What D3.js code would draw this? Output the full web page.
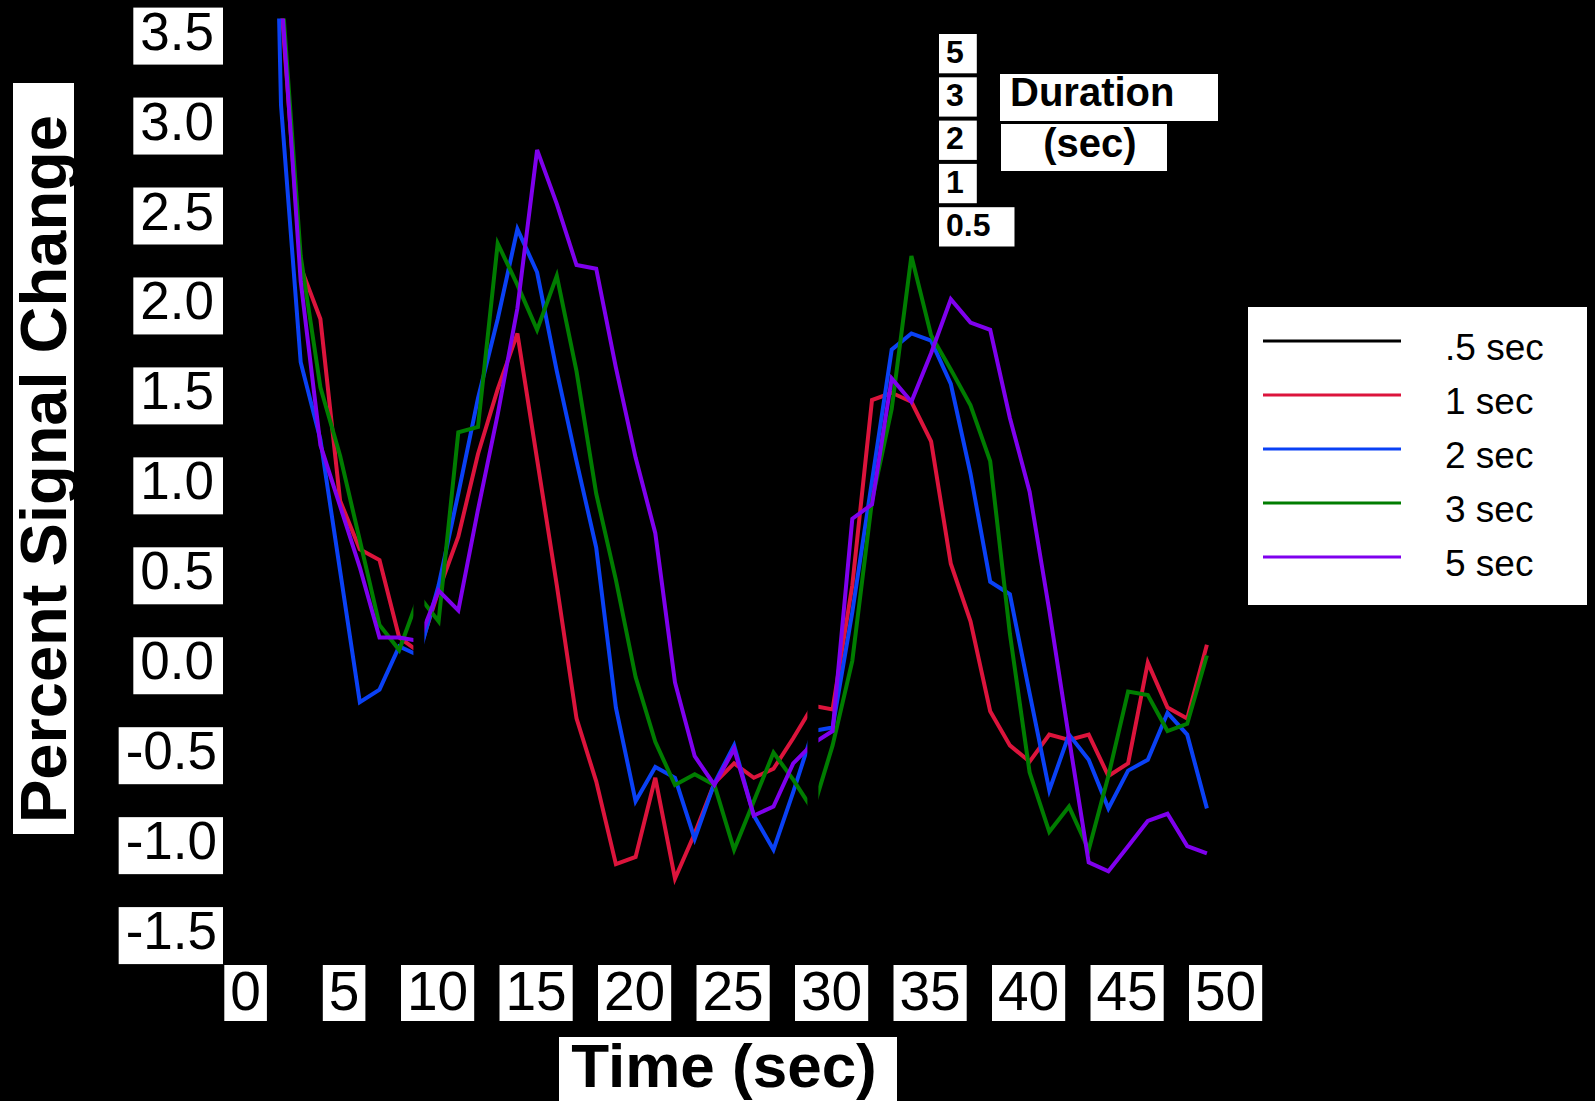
<!DOCTYPE html>
<html>
<head>
<meta charset="utf-8">
<script src="https://cdn.jsdelivr.net/npm/d3@7"></script>
<style>
  html, body { margin: 0; padding: 0; background: #000; }
  svg { display: block; }
  text { font-family: "Liberation Sans", Arial, Helvetica, sans-serif; }
</style>
</head>
<body>
<svg id="chart" width="1595" height="1101"></svg>
<script>
// ---- data: percent signal change sampled every second ----
const times = d3.range(1, 50); // 1 .. 49 s

// null = no sample; values above 3.6 run off the top of the plot
const sec1 = [null, 3.70, 2.22, 1.93, 0.92, 0.65, 0.59, 0.16, 0.08, 0.42, 0.72, 1.18, 1.54, 1.85, 1.15, 0.45,
  -0.29, -0.64, -1.10, -1.06, -0.62, -1.18, -0.93, -0.65, -0.54, -0.62, -0.57, -0.40, -0.22, -0.24, 0.45,
  1.48, 1.52, 1.47, 1.25, 0.57, 0.25, -0.25, -0.44, -0.53, -0.38, -0.41, -0.38, -0.61, -0.54, 0.02, -0.23, -0.29, 0.12];

const sec2 = [8.0, 3.12, 1.69, 1.26, 0.53, -0.20, -0.13, 0.11, 0.06, 0.45, 0.96, 1.49, 1.93, 2.43, 2.19, 1.64,
  1.14, 0.66, -0.23, -0.75, -0.56, -0.62, -0.96, -0.65, -0.44, -0.83, -1.02, -0.70, -0.36, -0.34, 0.30,
  1.03, 1.76, 1.85, 1.81, 1.57, 1.07, 0.47, 0.40, -0.15, -0.69, -0.38, -0.52, -0.79, -0.58, -0.52, -0.26, -0.38, -0.79];

const sec3 = [null, 3.82, 2.28, 1.55, 1.17, 0.70, 0.23, 0.09, 0.39, 0.25, 1.30, 1.33, 2.35, 2.12, 1.87, 2.17,
  1.64, 0.96, 0.48, -0.06, -0.42, -0.66, -0.60, -0.66, -1.02, -0.75, -0.48, -0.63, -0.80, -0.44, 0.03,
  0.92, 1.43, 2.28, 1.84, 1.65, 1.45, 1.14, 0.18, -0.59, -0.92, -0.78, -1.02, -0.61, -0.14, -0.16, -0.36, -0.32, 0.06];

const sec5 = [null, 3.76, 2.14, 1.23, 0.89, 0.55, 0.16, 0.16, 0.14, 0.42, 0.31, 0.87, 1.40, 1.99, 2.87, 2.57,
  2.23, 2.21, 1.66, 1.16, 0.74, -0.09, -0.50, -0.66, -0.46, -0.83, -0.78, -0.54, -0.43, -0.36, 0.82,
  0.90, 1.60, 1.47, 1.74, 2.04, 1.91, 1.87, 1.38, 0.97, 0.31, -0.40, -1.09, -1.14, -1.00, -0.86, -0.82, -1.00, -1.04];

// stimulus onsets (s), shown as thin black separators across the traces
const onsets = [9, 29];

// legend entries and their colours
const legendLabels = [".5 sec", "1 sec", "2 sec", "3 sec", "5 sec"];
const legendColors = ["#000000", "#dc143c", "#0a41f5", "#007d00", "#7f00ee"];

// stimulus duration key
const durationLabels = ["5", "3", "2", "1", "0.5"];

// axis ticks
const xTicks = [0, 5, 10, 15, 20, 25, 30, 35, 40, 45, 50];
const yTicks = [3.5, 3.0, 2.5, 2.0, 1.5, 1.0, 0.5, 0.0, -0.5, -1.0, -1.5];

// ---- drawing ----
const svg = d3.select("#chart");
svg.append("rect").attr("width", 1595).attr("height", 1101).attr("fill", "#000");

const x = d3.scaleLinear().domain([0, 50]).range([241.6, 1226.6]);
const y = d3.scaleLinear().domain([-1.5, 3.5]).range([936.1, 36.6]);

svg.append("defs").append("clipPath").attr("id", "plotClip")
  .append("rect")
  .attr("x", x(1.8)).attr("y", y(3.6))
  .attr("width", x(49.6) - x(1.8)).attr("height", y(-1.5) - y(3.6));

const plot = svg.append("g").attr("clip-path", "url(#plotClip)");

const series = [
  { values: sec1, color: legendColors[1] },
  { values: sec2, color: legendColors[2] },
  { values: sec3, color: legendColors[3] },
  { values: sec5, color: legendColors[4] }
];

const line = d3.line()
  .defined(d => d[1] != null)
  .x(d => x(d[0]))
  .y(d => y(d[1]));

series.forEach(s => {
  plot.append("path")
    .datum(times.map((t, i) => [t, s.values[i]]))
    .attr("d", line)
    .attr("fill", "none")
    .attr("stroke", s.color)
    .attr("stroke-width", 4);
});

plot.selectAll("rect.onset")
  .data(onsets)
  .join("rect")
  .attr("class", "onset")
  .attr("x", d => x(d) - 5.5)
  .attr("width", 11)
  .attr("y", y(3.6))
  .attr("height", y(-1.5) - y(3.6))
  .attr("fill", "#000");

// y tick labels on white plates
yTicks.forEach(v => {
  const g = svg.append("g");
  const plate = g.append("rect").attr("fill", "#fff");
  const t = g.append("text")
    .text(v.toFixed(1))
    .attr("font-size", 53)
    .attr("fill", "#000");
  const w = t.node().getComputedTextLength();
  const boxW = v < 0 ? w + 13 : w + 16;
  const left = 223 - boxW;
  plate.attr("x", left).attr("y", y(v) - 29).attr("width", boxW).attr("height", 57);
  t.attr("x", left + 7).attr("y", y(v) + 13);
});

// x tick labels on white plates
xTicks.forEach(v => {
  const label = String(v);
  const cx = x(v) + (label.length === 1 ? 4 : -1);
  const g = svg.append("g");
  const plate = g.append("rect").attr("fill", "#fff");
  const t = g.append("text")
    .text(label)
    .attr("font-size", 55)
    .attr("text-anchor", "middle")
    .attr("x", cx)
    .attr("y", 1010)
    .attr("fill", "#000");
  const w = t.node().getComputedTextLength();
  const boxW = w + 12;
  plate.attr("x", cx - boxW / 2).attr("y", 965).attr("width", boxW).attr("height", 56);
});

// axis titles
svg.append("rect").attr("x", 13).attr("y", 83).attr("width", 61).attr("height", 751).attr("fill", "#fff");
svg.append("text")
  .attr("transform", "translate(66,469) rotate(-90)")
  .attr("text-anchor", "middle")
  .attr("font-size", 65)
  .attr("font-weight", "bold")
  .attr("fill", "#000")
  .text("Percent Signal Change");

svg.append("rect").attr("x", 559).attr("y", 1037).attr("width", 338).attr("height", 64).attr("fill", "#fff");
svg.append("text")
  .attr("x", 724).attr("y", 1087)
  .attr("text-anchor", "middle")
  .attr("font-size", 62)
  .attr("font-weight", "bold")
  .attr("fill", "#000")
  .text("Time (sec)");

// legend
const legend = svg.append("g");
legend.append("rect").attr("x", 1248).attr("y", 307).attr("width", 339).attr("height", 298).attr("fill", "#fff");
legendLabels.forEach((lab, i) => {
  const ly = 341 + i * 54;
  legend.append("line")
    .attr("x1", 1263).attr("x2", 1401)
    .attr("y1", ly).attr("y2", ly)
    .attr("stroke", legendColors[i]).attr("stroke-width", 3);
  legend.append("text")
    .attr("x", 1445).attr("y", ly + 19)
    .attr("font-size", 37)
    .attr("fill", "#000")
    .text(lab);
});

// stimulus duration key
durationLabels.forEach((lab, i) => {
  const top = 34 + i * 43.3;
  const g = svg.append("g");
  const plate = g.append("rect").attr("fill", "#fff");
  const t = g.append("text")
    .text(lab)
    .attr("x", 946).attr("y", top + 28.7)
    .attr("font-size", 32)
    .attr("font-weight", "bold")
    .attr("fill", "#000");
  const w = t.node().getComputedTextLength();
  const boxW = 7 + w + (lab.length > 1 ? 24 : 13);
  plate.attr("x", 939).attr("y", top).attr("width", boxW).attr("height", 39.3);
});

svg.append("rect").attr("x", 1000).attr("y", 74).attr("width", 218).attr("height", 47).attr("fill", "#fff");
svg.append("text")
  .attr("x", 1010).attr("y", 106)
  .attr("font-size", 40).attr("font-weight", "bold").attr("fill", "#000")
  .text("Duration");
svg.append("rect").attr("x", 1001).attr("y", 124).attr("width", 166).attr("height", 47).attr("fill", "#fff");
svg.append("text")
  .attr("x", 1090).attr("y", 157)
  .attr("text-anchor", "middle")
  .attr("font-size", 40).attr("font-weight", "bold").attr("fill", "#000")
  .text("(sec)");
</script>
</body>
</html>
